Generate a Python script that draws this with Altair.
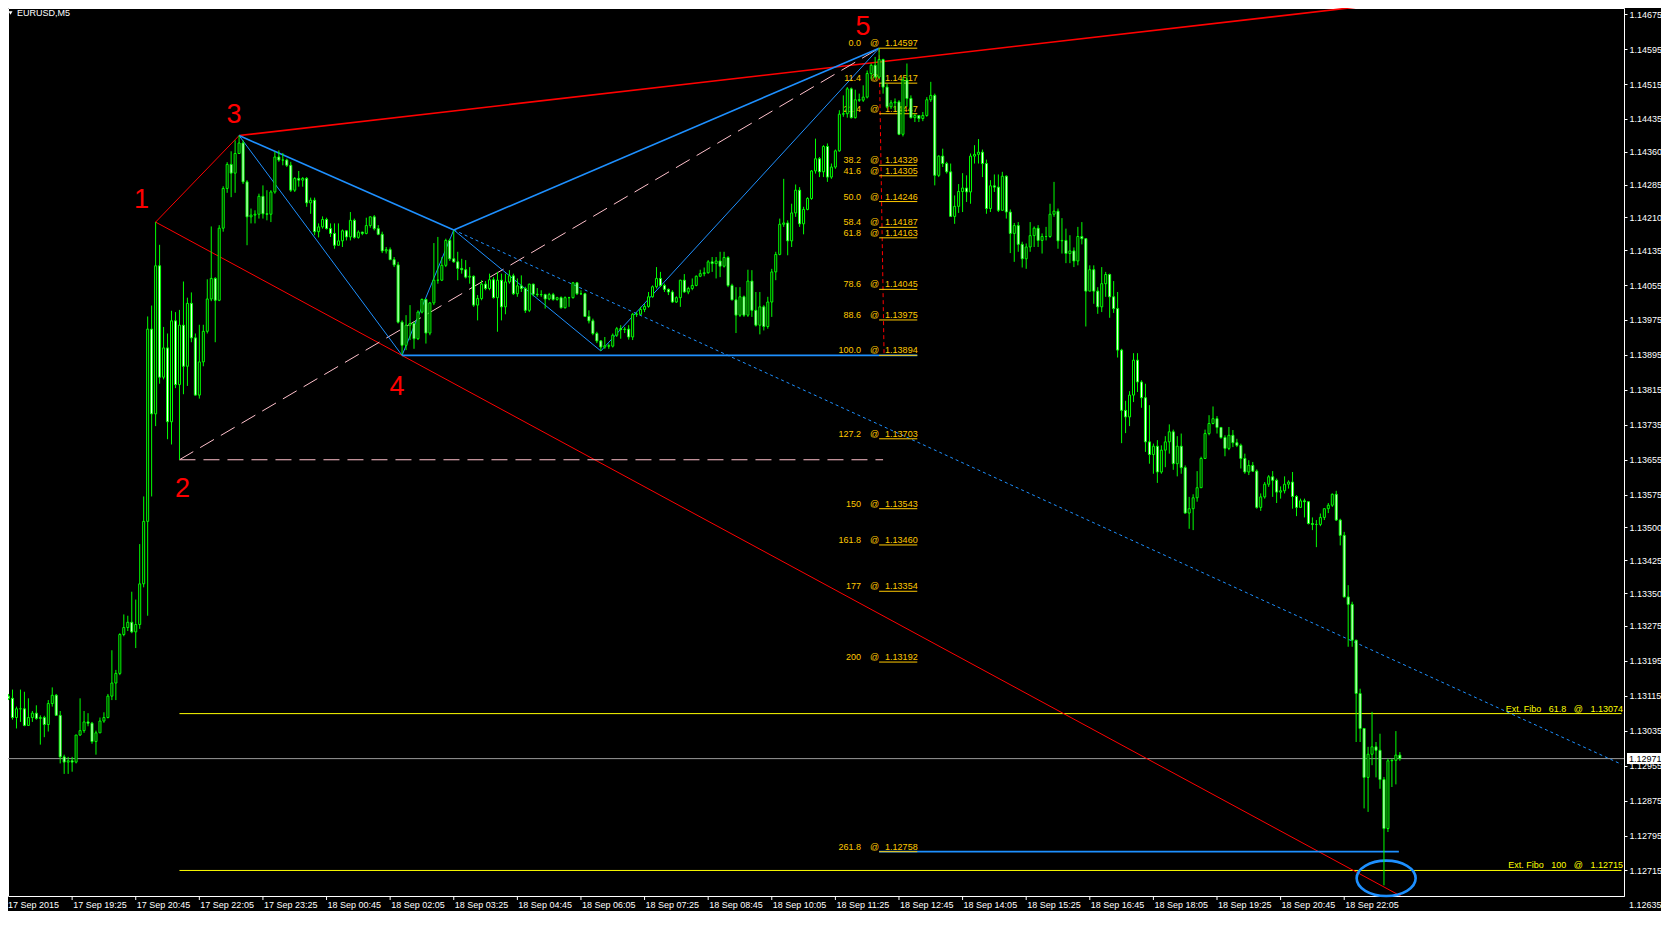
import altair as alt
import pandas as pd

# ---------------- candle data (EURUSD M5, prices in points of 0.00001) ----------------
OPEN = [
113114,113109,113065,113085,113085,113047,113065,113075,113063,113065,
113049,113097,113116,113070,112975,112963,112966,112963,113025,113035,
113055,113052,113010,113030,113057,113065,113114,113144,113166,113255,
113271,113283,113261,113278,113371,113514,113954,113760,114099,113844,
113911,113742,113973,113827,113963,113869,114013,113934,113803,113879,
113949,114023,114070,114020,114185,114276,114331,114311,114356,114380,
114291,114211,114215,114217,114258,114218,114217,114268,114348,114341,
114341,114329,114272,114299,114295,114299,114243,114249,114177,114188,
114205,114184,114173,114146,114156,114179,114165,114203,114164,114176,
114173,114191,114211,114184,114171,114133,114136,114113,114101,113970,
113917,113963,113967,113932,113993,114022,113945,114014,114066,114066,
114100,114157,114115,114108,114093,114090,114073,114075,114009,114024,
114057,114047,114067,114026,114066,114005,114062,114076,114035,114053,
114047,113997,114057,114034,114033,114033,114023,114033,114022,114026,
114003,114026,114026,114060,114035,114035,113983,113973,113944,113927,
113913,113916,113915,113940,113955,113953,113954,113936,113988,113988,
113999,114006,114028,114051,114070,114054,114045,114039,114016,114026,
114066,114039,114047,114054,114075,114081,114083,114108,114104,114110,
114098,114118,114054,114021,113986,114028,113986,114064,113997,113963,
114005,113960,114016,114085,114125,114194,114197,114156,114220,114272,
114195,114228,114253,114316,114344,114314,114372,114302,114325,114362,
114446,114447,114504,114438,114479,114478,114485,114539,114558,114531,
114571,114508,114463,114472,114474,114400,114524,114482,114438,114443,
114436,114443,114479,114489,114306,114350,114333,114314,114212,114235,
114269,114277,114268,114350,114354,114359,114333,114230,114282,114279,
114226,114304,114222,114173,114191,114148,114115,114142,114168,114185,
114157,114166,114166,114217,114224,114156,114157,114127,114133,114110,
114166,114161,114041,114090,114041,114005,114058,114079,114028,114001,
113906,113768,113753,113803,113883,113833,113797,113696,113667,113686,
113627,113677,113696,113719,113646,113686,113637,113533,113543,113568,
113591,113658,113715,113738,113749,113729,113706,113681,113711,113694,
113688,113658,113627,113642,113629,113546,113570,113599,113616,113608,
113581,113584,113599,113604,113571,113546,113561,113559,113509,113507,
113507,113523,113543,113551,113576,113517,113482,113341,113324,113242,
113120,113040,112928,112981,112998,112990,112923,112811,112966,112967,
112979]

HIGH = [
113119,113129,113090,113129,113124,113109,113080,113093,113070,113069,
113105,113134,113119,113080,112980,112975,112975,113025,113109,113080,
113075,113055,113035,113065,113077,113119,113219,113174,113258,113301,
113298,113353,113335,113462,113571,113983,114008,114199,114147,113959,
113944,113996,113993,113998,114063,114026,114038,113944,113964,113964,
114068,114189,114073,114192,114281,114336,114361,114386,114397,114386,
114295,114230,114226,114264,114283,114272,114272,114360,114363,114357,
114344,114337,114302,114316,114302,114302,114255,114255,114196,114212,
114209,114196,114196,114196,114182,114180,114222,114207,114180,114177,
114209,114212,114215,114192,114177,114142,114141,114119,114108,113974,
113986,114009,113972,113997,114024,114024,114016,114151,114165,114119,
114161,114161,114180,114131,114115,114112,114096,114077,114032,114066,
114064,114081,114073,114085,114081,114081,114089,114081,114070,114077,
114051,114058,114058,114048,114043,114035,114037,114037,114028,114029,
114029,114028,114062,114062,114043,114037,113997,113978,113948,113929,
113936,113921,113944,113959,113963,113959,113963,113991,113993,114005,
114012,114039,114054,114096,114085,114058,114047,114043,114029,114067,
114080,114051,114070,114077,114090,114095,114112,114119,114119,114131,
114131,114121,114058,114050,114050,114031,114090,114089,114039,114039,
114009,114028,114092,114131,114207,114298,114203,114241,114285,114279,
114234,114256,114318,114390,114348,114375,114379,114333,114365,114455,
114489,114508,114507,114502,114493,114512,114546,114562,114577,114597,
114573,114516,114478,114482,114478,114531,114562,114489,114447,114443,
114451,114485,114520,114493,114352,114367,114337,114333,114260,114286,
114311,114306,114356,114375,114389,114365,114342,114295,114308,114308,
114314,114306,114228,114197,114199,114154,114150,114199,114189,114192,
114173,114188,114241,114291,114230,114208,114184,114169,114141,114188,
114199,114161,114100,114100,114050,114096,114085,114081,114064,114039,
113909,113790,113812,113899,113899,113837,113829,113780,113692,113700,
113688,113709,113736,113724,113709,113715,113642,113570,113576,113629,
113662,113724,113757,113777,113755,113730,113711,113730,113723,113703,
113692,113669,113654,113650,113633,113578,113604,113620,113629,113612,
113594,113617,113608,113627,113574,113566,113566,113556,113523,113517,
113532,113543,113556,113578,113584,113520,113490,113368,113330,113243,
113131,113040,112998,113078,113009,113028,112929,112971,112971,113034,
112986]

LOW = [
113105,113060,113040,113055,113045,113047,113055,113060,113003,113020,
113033,113090,113070,112960,112936,112936,112941,112960,113023,113030,
113045,113005,112980,113030,113053,113063,113105,113105,113162,113251,
113263,113258,113224,113268,113363,113298,113571,113732,113829,113839,
113702,113690,113819,113655,113805,113824,113924,113802,113795,113869,
113944,114018,113924,114018,114177,114266,114256,114266,114356,114286,
114146,114196,114196,114207,114207,114203,114199,114264,114337,114329,
114325,114268,114268,114280,114280,114234,114218,114169,114164,114184,
114182,114165,114138,114146,114142,114157,114157,114161,114161,114169,
114171,114186,114180,114169,114128,114127,114112,114096,113967,113896,
113906,113929,113909,113929,113990,113921,113940,114009,114058,114064,
114096,114110,114106,114066,114081,114070,114058,114005,113974,114020,
114043,114043,114024,113948,113974,113988,114058,114032,114028,114039,
113991,113993,114029,114028,114028,114001,114020,114019,114019,114001,
114001,114005,114024,114032,114032,113982,113967,113940,113922,113904,
113909,113909,113912,113936,113932,113945,113930,113929,113982,113986,
113993,114003,114026,114047,114051,114039,114032,114014,114014,114005,
114037,114034,114043,114052,114073,114075,114081,114085,114070,114073,
114095,114050,114020,113945,113982,113982,113982,113982,113960,113942,
113951,113955,113982,114066,114123,114188,114123,114142,114211,114188,
114171,114226,114250,114310,114302,114302,114291,114298,114321,114360,
114440,114438,114436,114436,114474,114474,114482,114527,114527,114527,
114493,114459,114458,114455,114398,114395,114463,114436,114428,114428,
114430,114440,114474,114283,114302,114325,114310,114211,114195,114220,
114222,114245,114241,114333,114333,114302,114218,114222,114268,114222,
114226,114207,114128,114108,114131,114095,114092,114131,114142,114142,
114127,114157,114163,114211,114138,114127,114105,114105,114096,114100,
114148,113960,114041,114012,113989,113993,114028,113980,113991,113889,
113693,113716,113732,113787,113810,113774,113673,113646,113623,113602,
113623,113638,113669,113632,113617,113623,113532,113497,113494,113559,
113591,113658,113711,113736,113715,113703,113663,113677,113684,113684,
113635,113623,113620,113627,113543,113538,113566,113593,113570,113556,
113566,113578,113589,113543,113526,113555,113523,113507,113494,113455,
113503,113517,113533,113547,113515,113459,113340,113227,113227,113009,
113009,112857,112849,112956,112928,112902,112681,112803,112906,112912,
112966]

CLOSE = [
113109,113065,113085,113085,113047,113065,113075,113063,113065,113049,
113097,113116,113070,112975,112963,112966,112963,113025,113035,113055,
113052,113010,113030,113057,113065,113114,113144,113166,113255,113271,
113283,113261,113278,113371,113514,113954,113760,114099,113844,113911,
113742,113973,113827,113963,113869,114013,113934,113803,113879,113949,
114023,114070,114020,114185,114276,114331,114311,114356,114380,114291,
114211,114215,114217,114258,114218,114217,114268,114348,114341,114341,
114329,114272,114299,114295,114299,114243,114249,114177,114188,114205,
114184,114173,114146,114156,114179,114165,114203,114164,114176,114173,
114191,114211,114184,114171,114133,114136,114113,114101,113970,113917,
113963,113967,113932,113993,114022,113945,114014,114066,114066,114100,
114157,114115,114108,114093,114090,114073,114075,114009,114024,114057,
114047,114067,114026,114066,114005,114062,114076,114035,114053,114047,
113997,114057,114034,114033,114033,114023,114033,114022,114026,114003,
114026,114026,114060,114035,114035,113983,113973,113944,113927,113913,
113916,113915,113940,113955,113953,113954,113936,113988,113988,113999,
114006,114028,114051,114070,114054,114045,114039,114016,114026,114066,
114039,114047,114054,114075,114081,114083,114108,114104,114110,114098,
114118,114054,114021,113986,114028,113986,114064,113997,113963,114005,
113960,114016,114085,114125,114194,114197,114156,114220,114272,114195,
114228,114253,114316,114344,114314,114372,114302,114325,114362,114446,
114447,114504,114438,114479,114478,114485,114539,114558,114531,114571,
114508,114463,114472,114474,114400,114524,114482,114438,114443,114436,
114443,114479,114489,114306,114350,114333,114314,114212,114235,114269,
114277,114268,114350,114354,114359,114333,114230,114282,114279,114226,
114304,114222,114173,114191,114148,114115,114142,114168,114185,114157,
114166,114166,114217,114224,114156,114157,114127,114133,114110,114166,
114161,114041,114090,114041,114005,114058,114079,114028,114001,113906,
113768,113753,113803,113883,113833,113797,113696,113667,113686,113627,
113677,113696,113719,113646,113686,113637,113533,113543,113568,113591,
113658,113715,113738,113749,113729,113706,113681,113711,113694,113688,
113658,113627,113642,113629,113546,113570,113599,113616,113608,113581,
113584,113599,113604,113571,113546,113561,113559,113509,113507,113507,
113523,113543,113551,113576,113517,113482,113341,113324,113242,113120,
113040,112928,112981,112998,112990,112923,112811,112966,112967,112979,
112971]
POINT = 0.00001

# ---------------- axes ----------------
Y_TICKS = [1.14675, 1.14595, 1.14515, 1.14435, 1.14360, 1.14285, 1.14210, 1.14135,
           1.14055, 1.13975, 1.13895, 1.13815, 1.13735, 1.13655, 1.13575, 1.13500,
           1.13425, 1.13350, 1.13275, 1.13195, 1.13115, 1.13035, 1.12955, 1.12875,
           1.12795, 1.12715, 1.12635]
TICK_BARS = [16, 32, 48, 64, 80, 96, 112, 128, 144, 160, 176, 192, 208, 224, 240,
             256, 272, 288, 304, 320, 336]
TICK_LABELS = ["17 Sep 19:25", "17 Sep 20:45", "17 Sep 22:05", "17 Sep 23:25",
               "18 Sep 00:45", "18 Sep 02:05", "18 Sep 03:25", "18 Sep 04:45",
               "18 Sep 06:05", "18 Sep 07:25", "18 Sep 08:45", "18 Sep 10:05",
               "18 Sep 11:25", "18 Sep 12:45", "18 Sep 14:05", "18 Sep 15:25",
               "18 Sep 16:45", "18 Sep 18:05", "18 Sep 19:25", "18 Sep 20:45",
               "18 Sep 22:05"]
FIRST_LABEL = "17 Sep 2015"
SYMBOL_LABEL = "EURUSD,M5"

# ---------------- drawn objects ----------------
WAVE_NAMES = ["1", "2", "3", "4", "5"]
WAVE_BARS = [37, 43, 58, 99, 219]
WAVE_PRICES = [1.14199, 1.13655, 1.14397, 1.13894, 1.14597]
PIVOT_B = (112, 1.14181)
PIVOT_C = (149, 1.13904)
RAY3_END = (346.75, 1.14699)
RAY1_END = (357.0, 1.12623)
DOT_END = (405.75, 1.12958)
RIGHT_BAR = 405.75
PINK_END_BAR = 220
RED_DOT_END = (220.25, 1.13894)

FIB_LEVELS = ["0.0", "11.4", "21.4", "38.2", "41.6", "50.0", "58.4", "61.8", "78.6",
              "88.6", "100.0", "127.2", "150", "161.8", "177", "200", "261.8"]
FIB_PRICES = [1.14597, 1.14517, 1.14447, 1.14329, 1.14305, 1.14246, 1.14187, 1.14163,
              1.14045, 1.13975, 1.13894, 1.13703, 1.13543, 1.13460, 1.13354, 1.13192,
              1.12758]
FIB_START_BAR = 219
FIB_END_BAR = 228.6
FIB_2618_END_BAR = 349.75

EXT_LEVELS = ["61.8", "100"]
EXT_PRICES = [1.13074, 1.12715]
EXT_START_BAR = 43
LAST_PRICE = 1.12971
TARGET = (346.55, 1.12697)

# ---------------- scales / layout ----------------
FONT = "Liberation Sans"
PLOT_W, PLOT_H = 1616, 888
X_MIN = 1.125
Y_MAX = 1.14689
PX_PER_PRICE = 43691.0
Y_MIN = Y_MAX - PLOT_H / PX_PER_PRICE
XS = alt.Scale(domain=[X_MIN, X_MIN + PLOT_W / 4.0], nice=False, zero=False)
YS = alt.Scale(domain=[Y_MIN, Y_MAX], nice=False, zero=False)
YAXIS = alt.Axis(orient="right", values=Y_TICKS, format=".5f", title=None,
                 labelColor="white", labelFont=FONT, labelFontSize=9,
                 tickColor="white", tickSize=3, labelPadding=2,
                 domainColor="white", grid=False, labelOverlap=False,
                 labelFlush=False)


def xq(f):
    return alt.X(f, type="quantitative", scale=XS, axis=None)


def yq(f):
    return alt.Y(f, type="quantitative", scale=YS, axis=YAXIS)


P = {n: (b, p) for n, b, p in zip(WAVE_NAMES, WAVE_BARS, WAVE_PRICES)}
P["B"] = PIVOT_B
P["C"] = PIVOT_C


def seg_layer(segs, **style):
    df = pd.DataFrame([{"x": a[0], "y": a[1], "x2": b[0], "y2": b[1]} for a, b in segs])
    return alt.Chart(df).mark_rule(**style).encode(
        x=xq("x"), y=yq("y"), x2=alt.X2("x2"), y2=alt.Y2("y2"))


layers = []

# last price line
layers.append(alt.Chart(pd.DataFrame({"p": [LAST_PRICE]})).mark_rule(
    color="#9A9A9A", strokeWidth=1).encode(y=yq("p")))

# extension lines + labels
layers.append(seg_layer([((EXT_START_BAR, p), (RIGHT_BAR, p)) for p in EXT_PRICES],
                        color="#FFFF00", strokeWidth=1, clip=True))
ext_df = pd.DataFrame({
    "p": EXT_PRICES,
    "t": ["Ext.\u00a0Fibo\u00a0\u00a0\u00a0" + l + "\u00a0\u00a0\u00a0@\u00a0\u00a0\u00a0" + f"{p:.5f}"
          for l, p in zip(EXT_LEVELS, EXT_PRICES)]})
layers.append(alt.Chart(ext_df).mark_text(
    align="right", baseline="alphabetic", dy=-2, color="#FFFF00", font=FONT, fontSize=9
).encode(x=alt.value(PLOT_W - 1), y=yq("p"), text="t:N"))

# red trend lines
layers.append(seg_layer([(P["1"], P["3"])], color="#FF0000", strokeWidth=1))
layers.append(seg_layer([(P["3"], RAY3_END)], color="#FF0000", strokeWidth=1.6, clip=True))
layers.append(seg_layer([(P["1"], RAY1_END)], color="#FF0000", strokeWidth=1, clip=True))

# pink dashed 2 -> 5
layers.append(seg_layer([(P["2"], P["5"]), (P["2"], (PINK_END_BAR, P["2"][1]))],
                        color="#FFC0CB", strokeWidth=1, strokeDash=[16, 8]))

# blue harmonic pattern
layers.append(seg_layer([(P["3"], P["4"]), (P["4"], P["B"]), (P["B"], P["C"]), (P["C"], P["5"])],
                        color="#1E90FF", strokeWidth=1))
layers.append(seg_layer([(P["3"], P["B"]), (P["B"], P["5"])], color="#1E90FF", strokeWidth=1.6))
layers.append(seg_layer([(P["4"], (FIB_END_BAR, P["4"][1])),
                         ((FIB_START_BAR, FIB_PRICES[-1]), (FIB_2618_END_BAR, FIB_PRICES[-1]))],
                        color="#1E90FF", strokeWidth=1.6))
layers.append(seg_layer([(P["B"], DOT_END)], color="#1E90FF", strokeWidth=1,
                        strokeDash=[3, 3], clip=True))

# red dotted fib axis
layers.append(seg_layer([(P["5"], RED_DOT_END)], color="#FF0000", strokeWidth=1,
                        strokeDash=[4, 3]))

# fibonacci levels
fib_df = pd.DataFrame({"lvl": FIB_LEVELS, "p": FIB_PRICES,
                       "ptxt": [f"{p:.5f}" for p in FIB_PRICES],
                       "x0": [FIB_START_BAR] * len(FIB_PRICES),
                       "x1": [FIB_END_BAR] * len(FIB_PRICES)})
FIB_COLOR = "#FFC800"
layers.append(alt.Chart(fib_df).mark_rule(color=FIB_COLOR, strokeWidth=1).encode(
    x=xq("x0"), x2=alt.X2("x1"), y=yq("p")))
layers.append(alt.Chart(fib_df).mark_text(
    align="right", baseline="alphabetic", dx=-18, dy=-2, color=FIB_COLOR, font=FONT, fontSize=9
).encode(x=xq("x0"), y=yq("p"), text="lvl:N"))
layers.append(alt.Chart(fib_df).mark_text(
    align="center", baseline="alphabetic", dx=-4.5, dy=-2, color=FIB_COLOR, font=FONT, fontSize=9
).encode(x=xq("x0"), y=yq("p"), text=alt.value("@")))
layers.append(alt.Chart(fib_df).mark_text(
    align="left", baseline="alphabetic", dx=6, dy=-2, color=FIB_COLOR, font=FONT, fontSize=9
).encode(x=xq("x0"), y=yq("p"), text="ptxt:N"))

# wave numbers
NUM_OFFSETS = {"1": (-14, -22), "2": (3, 29), "3": (-5, -21), "4": (-5, 32), "5": (-16, -21)}
for n in WAVE_NAMES:
    b, p = P[n]
    ddx, ddy = NUM_OFFSETS[n]
    layers.append(alt.Chart(pd.DataFrame({"b": [b], "p": [p], "t": [n]})).mark_text(
        align="center", baseline="middle", dx=ddx, dy=ddy, color="#FF0000",
        font=FONT, fontSize=27).encode(x=xq("b"), y=yq("p"), text="t:N"))

# target ellipse
layers.append(alt.Chart(pd.DataFrame({"b": [TARGET[0]], "p": [TARGET[1]]})).mark_point(
    shape="M -1 0 A 1 0.6 0 1 1 1 0 A 1 0.6 0 1 1 -1 0 Z", size=3481, filled=False,
    stroke="#1E90FF", strokeWidth=2.6, opacity=1).encode(x=xq("b"), y=yq("p")))

# candles
candles = pd.DataFrame({
    "bar": list(range(len(CLOSE))),
    "open": [v * POINT for v in OPEN],
    "high": [v * POINT for v in HIGH],
    "low": [v * POINT for v in LOW],
    "close": [v * POINT for v in CLOSE],
})
layers.append(alt.Chart(candles).mark_rule(color="#00FF00", strokeWidth=1).encode(
    x=xq("bar"), y=yq("low"), y2=alt.Y2("high")))
layers.append(alt.Chart(candles).mark_bar(size=2, stroke="#00FF00", strokeWidth=1).encode(
    x=xq("bar"), y=yq("open"), y2=alt.Y2("close"),
    fill=alt.condition(alt.datum.close < alt.datum.open, alt.value("#FFFFFF"), alt.value("#000000"))))

# price-axis labels that fall just below the plotted range
below = pd.DataFrame({"p": [t for t in Y_TICKS if t < Y_MIN]})
below["t"] = [f"{v:.5f}" for v in below["p"]]
layers.append(alt.Chart(below).mark_text(
    align="left", baseline="middle", color="white", font=FONT, fontSize=9
).encode(x=alt.value(PLOT_W + 5), y=yq("p"), text="t:N"))

# last price box on the price axis
lp = pd.DataFrame({"p": [LAST_PRICE], "t": [f"{LAST_PRICE:.5f}"]})
layers.append(alt.Chart(lp).mark_rect(fill="white", yOffset=-5.5, y2Offset=5.5).encode(
    x=alt.value(PLOT_W + 3), x2=alt.value(PLOT_W + 40), y=yq("p"), y2=alt.Y2("p")))
layers.append(alt.Chart(lp).mark_text(
    align="left", baseline="middle", color="black", font=FONT, fontSize=9
).encode(x=alt.value(PLOT_W + 5), y=yq("p"), text="t:N"))

# time axis (ticks + labels)
tick_df = pd.DataFrame({"bar": TICK_BARS, "lab": TICK_LABELS})
layers.append(alt.Chart(tick_df).mark_rule(color="white", strokeWidth=1).encode(
    x=xq("bar"), y=alt.value(PLOT_H), y2=alt.value(PLOT_H + 4)))
layers.append(alt.Chart(tick_df).mark_text(
    align="left", baseline="top", dx=1, color="white", font=FONT, fontSize=9
).encode(x=xq("bar"), y=alt.value(PLOT_H + 4.5), text="lab:N"))
layers.append(alt.Chart(pd.DataFrame({"t": [FIRST_LABEL]})).mark_text(
    align="left", baseline="top", color="white", font=FONT, fontSize=9
).encode(x=alt.value(0), y=alt.value(PLOT_H + 4.5), text="t:N"))

# symbol caption
layers.append(alt.Chart(pd.DataFrame({"t": [SYMBOL_LABEL]})).mark_point(
    shape="triangle-down", filled=True, color="white", size=16, opacity=1
).encode(x=alt.value(2.5), y=alt.value(5)))
layers.append(alt.Chart(pd.DataFrame({"t": [SYMBOL_LABEL]})).mark_text(
    align="left", baseline="middle", color="white", font=FONT, fontSize=9
).encode(x=alt.value(9), y=alt.value(5), text="t:N"))

chart = alt.layer(*layers).properties(
    width=PLOT_W, height=PLOT_H,
    padding={"left": 0, "top": 0, "right": 37, "bottom": 15},
    autosize=alt.AutoSizeParams(type="none"),
    background="black",
).configure_view(stroke="white", strokeWidth=1, fill="black")

chart.save("out.html", embed_options={"renderer": "svg", "actions": False})
